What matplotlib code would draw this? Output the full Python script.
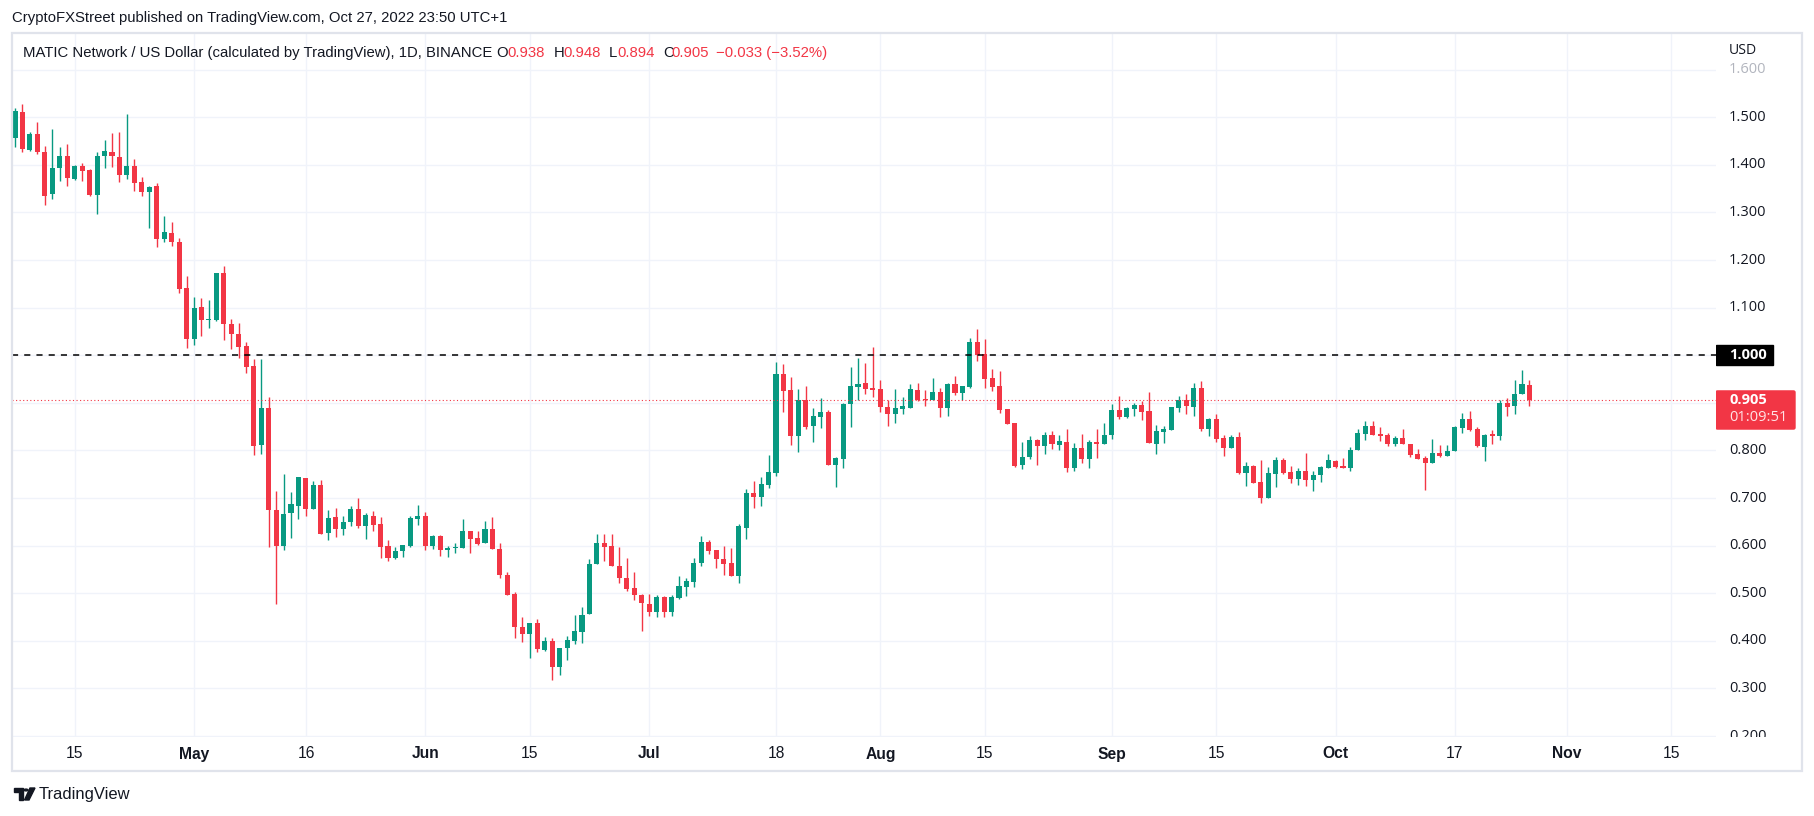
import numpy as np
import pandas as pd
import matplotlib
matplotlib.use('Agg')
import matplotlib.pyplot as plt
import matplotlib.dates as mdates
import matplotlib.transforms as mtrans
from matplotlib import font_manager
from matplotlib.patches import Rectangle, FancyBboxPatch, Polygon, Circle

# ---- data: MATIC/USD daily candles, 2022-04-07 .. 2022-10-27 ----
dates = pd.date_range('2022-04-07', '2022-10-27', freq='D')

open_ = [
    # Apr 7-30
    1.457, 1.511, 1.431, 1.465, 1.427, 1.338, 1.394, 1.419, 1.371, 1.398, 1.390, 1.336,
    1.418, 1.427, 1.417, 1.378, 1.398, 1.364, 1.344, 1.356, 1.245, 1.257, 1.238, 1.142,
    # May
    1.034, 1.102, 1.075, 1.075, 1.173, 1.066, 1.045, 1.020, 0.978, 0.812, 0.889, 0.675,
    0.600, 0.668, 0.684, 0.742, 0.678, 0.728, 0.627, 0.660, 0.634, 0.649, 0.677, 0.642,
    0.662, 0.646, 0.599, 0.575, 0.588, 0.600, 0.656,
    # Jun
    0.662, 0.600, 0.621, 0.590, 0.595, 0.596, 0.631, 0.617, 0.605, 0.634, 0.594, 0.539,
    0.499, 0.429, 0.414, 0.438, 0.380, 0.399, 0.345, 0.384, 0.399, 0.418, 0.456, 0.561,
    0.606, 0.600, 0.558, 0.533, 0.510, 0.497,
    # Jul
    0.478, 0.460, 0.493, 0.461, 0.491, 0.514, 0.524, 0.564, 0.608, 0.591, 0.572, 0.564,
    0.537, 0.638, 0.710, 0.703, 0.728, 0.753, 0.960, 0.927, 0.831, 0.906, 0.852, 0.871,
    0.880, 0.770, 0.783, 0.898, 0.934, 0.941, 0.931,
    # Aug
    0.929, 0.891, 0.877, 0.887, 0.890, 0.927, 0.908, 0.906, 0.922, 0.890, 0.939, 0.921,
    0.933, 1.027, 1.002, 0.952, 0.935, 0.887, 0.857, 0.770, 0.787, 0.822, 0.810, 0.832,
    0.812, 0.818, 0.764, 0.806, 0.783, 0.818, 0.814,
    # Sep
    0.832, 0.885, 0.870, 0.887, 0.895, 0.883, 0.813, 0.838, 0.843, 0.889, 0.906, 0.891,
    0.931, 0.845, 0.866, 0.826, 0.805, 0.828, 0.752, 0.767, 0.733, 0.701, 0.750, 0.780,
    0.755, 0.740, 0.757, 0.738, 0.748, 0.764,
    # Oct 1-27
    0.778, 0.768, 0.763, 0.801, 0.835, 0.852, 0.835, 0.833, 0.814, 0.826, 0.814, 0.793,
    0.784, 0.774, 0.795, 0.789, 0.799, 0.847, 0.866, 0.845, 0.807, 0.835, 0.831, 0.900,
    0.893, 0.919, 0.938,
]
high = [
    1.519, 1.528, 1.469, 1.490, 1.440, 1.475, 1.438, 1.444, 1.400, 1.404, 1.392, 1.427,
    1.452, 1.467, 1.469, 1.507, 1.413, 1.375, 1.356, 1.362, 1.293, 1.280, 1.247, 1.167,
    1.123, 1.121, 1.117, 1.173, 1.188, 1.077, 1.068, 1.028, 0.992, 0.992, 0.912, 0.715,
    0.751, 0.713, 0.744, 0.742, 0.736, 0.738, 0.675, 0.679, 0.663, 0.683, 0.700, 0.669,
    0.673, 0.660, 0.612, 0.597, 0.602, 0.662, 0.686,
    0.671, 0.623, 0.623, 0.599, 0.606, 0.657, 0.631, 0.631, 0.652, 0.661, 0.606, 0.545,
    0.503, 0.451, 0.438, 0.445, 0.409, 0.407, 0.384, 0.411, 0.455, 0.472, 0.573, 0.625,
    0.625, 0.625, 0.598, 0.575, 0.545, 0.499,
    0.499, 0.497, 0.494, 0.496, 0.536, 0.532, 0.574, 0.620, 0.612, 0.591, 0.599, 0.595,
    0.645, 0.719, 0.736, 0.744, 0.790, 0.985, 0.981, 0.954, 0.929, 0.935, 0.889, 0.910,
    0.885, 0.786, 0.899, 0.975, 0.994, 0.983, 1.017,
    0.947, 0.906, 0.929, 0.912, 0.939, 0.941, 0.927, 0.952, 0.931, 0.941, 0.956, 0.935,
    1.036, 1.055, 1.034, 0.971, 0.966, 0.887, 0.857, 0.817, 0.830, 0.824, 0.838, 0.841,
    0.832, 0.845, 0.815, 0.834, 0.822, 0.845, 0.857,
    0.897, 0.914, 0.891, 0.899, 0.903, 0.922, 0.853, 0.851, 0.891, 0.914, 0.918, 0.941,
    0.945, 0.868, 0.876, 0.832, 0.832, 0.838, 0.775, 0.769, 0.780, 0.765, 0.786, 0.784,
    0.767, 0.763, 0.794, 0.757, 0.767, 0.793,
    0.780, 0.784, 0.807, 0.845, 0.862, 0.862, 0.849, 0.837, 0.831, 0.845, 0.814, 0.803,
    0.789, 0.824, 0.812, 0.812, 0.852, 0.879, 0.883, 0.849, 0.835, 0.843, 0.906, 0.910,
    0.948, 0.969, 0.948,
]
low = [
    1.438, 1.426, 1.430, 1.422, 1.315, 1.329, 1.367, 1.355, 1.369, 1.367, 1.335, 1.296,
    1.394, 1.396, 1.363, 1.371, 1.346, 1.334, 1.268, 1.227, 1.237, 1.229, 1.130, 1.015,
    1.021, 1.040, 1.057, 1.071, 1.031, 1.013, 0.995, 0.962, 0.791, 0.793, 0.598, 0.478,
    0.590, 0.617, 0.657, 0.663, 0.676, 0.625, 0.611, 0.619, 0.623, 0.642, 0.638, 0.613,
    0.630, 0.575, 0.567, 0.571, 0.577, 0.598, 0.644,
    0.590, 0.592, 0.579, 0.577, 0.584, 0.596, 0.584, 0.602, 0.605, 0.592, 0.531, 0.496,
    0.406, 0.397, 0.364, 0.376, 0.378, 0.317, 0.328, 0.360, 0.393, 0.395, 0.456, 0.561,
    0.567, 0.557, 0.521, 0.504, 0.485, 0.420,
    0.452, 0.450, 0.450, 0.453, 0.487, 0.495, 0.514, 0.558, 0.583, 0.554, 0.539, 0.537,
    0.522, 0.614, 0.680, 0.684, 0.722, 0.747, 0.881, 0.812, 0.797, 0.845, 0.818, 0.847,
    0.770, 0.724, 0.764, 0.850, 0.906, 0.919, 0.913,
    0.881, 0.852, 0.858, 0.877, 0.890, 0.904, 0.894, 0.906, 0.871, 0.873, 0.917, 0.906,
    0.931, 0.987, 0.931, 0.925, 0.878, 0.856, 0.766, 0.762, 0.781, 0.770, 0.793, 0.803,
    0.801, 0.755, 0.757, 0.774, 0.764, 0.785, 0.814,
    0.824, 0.866, 0.868, 0.872, 0.864, 0.815, 0.792, 0.815, 0.843, 0.880, 0.876, 0.872,
    0.841, 0.830, 0.817, 0.788, 0.805, 0.750, 0.725, 0.731, 0.690, 0.701, 0.723, 0.750,
    0.731, 0.727, 0.725, 0.715, 0.734, 0.764,
    0.763, 0.763, 0.757, 0.801, 0.822, 0.833, 0.820, 0.810, 0.810, 0.814, 0.786, 0.782,
    0.717, 0.774, 0.786, 0.789, 0.799, 0.837, 0.841, 0.807, 0.778, 0.814, 0.822, 0.873,
    0.877, 0.919, 0.894,
]
close = [
    1.513, 1.434, 1.465, 1.426, 1.334, 1.394, 1.419, 1.373, 1.398, 1.388, 1.337, 1.419,
    1.429, 1.418, 1.378, 1.398, 1.361, 1.342, 1.354, 1.245, 1.259, 1.237, 1.140, 1.034,
    1.100, 1.075, 1.077, 1.173, 1.065, 1.044, 1.018, 0.976, 0.810, 0.889, 0.674, 0.600,
    0.667, 0.687, 0.744, 0.676, 0.728, 0.625, 0.658, 0.634, 0.650, 0.677, 0.642, 0.665,
    0.644, 0.598, 0.575, 0.589, 0.602, 0.658, 0.662,
    0.600, 0.621, 0.590, 0.596, 0.598, 0.631, 0.615, 0.604, 0.634, 0.592, 0.538, 0.496,
    0.429, 0.414, 0.438, 0.382, 0.399, 0.345, 0.384, 0.401, 0.420, 0.455, 0.562, 0.606,
    0.598, 0.557, 0.532, 0.508, 0.496, 0.479,
    0.460, 0.493, 0.461, 0.492, 0.515, 0.526, 0.564, 0.608, 0.589, 0.571, 0.562, 0.537,
    0.641, 0.710, 0.703, 0.729, 0.754, 0.960, 0.925, 0.831, 0.906, 0.850, 0.872, 0.880,
    0.770, 0.784, 0.897, 0.935, 0.939, 0.929, 0.927,
    0.892, 0.877, 0.889, 0.893, 0.929, 0.906, 0.906, 0.922, 0.890, 0.939, 0.921, 0.935,
    1.027, 1.001, 0.950, 0.934, 0.885, 0.856, 0.768, 0.786, 0.822, 0.810, 0.832, 0.814,
    0.820, 0.764, 0.806, 0.782, 0.818, 0.814, 0.832,
    0.885, 0.870, 0.889, 0.895, 0.880, 0.815, 0.841, 0.845, 0.891, 0.906, 0.893, 0.931,
    0.845, 0.866, 0.824, 0.805, 0.828, 0.752, 0.767, 0.731, 0.701, 0.752, 0.780, 0.752,
    0.740, 0.757, 0.738, 0.748, 0.765, 0.780,
    0.765, 0.763, 0.801, 0.837, 0.852, 0.833, 0.831, 0.814, 0.826, 0.814, 0.791, 0.782,
    0.774, 0.795, 0.789, 0.799, 0.849, 0.866, 0.843, 0.810, 0.833, 0.831, 0.900, 0.892,
    0.919, 0.940, 0.905,
]

price_ticks = [0.2, 0.3, 0.4, 0.5, 0.6, 0.7, 0.8, 0.9, 1.0, 1.1, 1.2, 1.3, 1.4, 1.5, 1.6]
time_ticks = ['2022-04-15', '2022-05-01', '2022-05-16', '2022-06-01', '2022-06-15',
              '2022-07-01', '2022-07-18', '2022-08-01', '2022-08-15', '2022-09-01',
              '2022-09-15', '2022-10-01', '2022-10-17', '2022-11-01', '2022-11-15']
time_labels = ['15', 'May', '16', 'Jun', '15', 'Jul', '18', 'Aug', '15', 'Sep',
               '15', 'Oct', '17', 'Nov', '15']
level = 1.0
last_price = 0.905
countdown = '01:09:51'

UP = '#089981'
DOWN = '#F23645'
GRID = '#F0F3FA'
TXT = '#131722'

names = {f.name for f in font_manager.fontManager.ttflist}
narrow = 'Liberation Sans' if 'Liberation Sans' in names else 'DejaVu Sans'
plain = 'Open Sans' if 'Open Sans' in names else 'DejaVu Sans'

W, H = 1814, 816
fig = plt.figure(figsize=(W / 100, H / 100), dpi=100)
fig.patch.set_facecolor('white')
renderer = fig.canvas.get_renderer()

def fx(px):
    return px / W

def fy(py):
    return 1 - py / H

def fit(t, width_px):
    # scale font so the text spans the same width as in the screenshot
    w = t.get_window_extent(renderer).width
    t.set_fontsize(t.get_fontsize() * width_px / w)
    return t.get_fontsize()

# main pane (pixel box of the screenshot)
PL, PR, PT, PB = 12, 1716, 33, 737
ax = fig.add_axes([fx(PL), fy(PB), (PR - PL) / W, (PB - PT) / H])
xd = mdates.date2num(dates)
ax.set_xlim(xd[0] - 0.4, xd[-1] + 25.0)
ax.set_ylim(0.198, 1.677)
for s in ax.spines.values():
    s.set_visible(False)
ax.set_xticks([])
ax.set_yticks([])

for p in price_ticks:
    ax.axhline(p, color=GRID, lw=1, zorder=0)
for d in time_ticks:
    ax.axvline(mdates.date2num(pd.Timestamp(d)), color=GRID, lw=1, zorder=0)

o = np.array(open_); h = np.array(high); l = np.array(low); c = np.array(close)
cols = np.where(c >= o, UP, DOWN)
ax.vlines(xd, l, h, colors=cols, lw=1.0, zorder=2)
body = np.maximum(np.abs(c - o), 0.0022)
ax.bar(xd, body, bottom=np.minimum(o, c), width=0.68, color=cols, lw=0, zorder=3)

ax.axhline(level, color='black', lw=1.1, dashes=(4, 4), zorder=4)
ax.axhline(last_price, color=DOWN, lw=0.8, linestyle=(0, (1, 2.2)), zorder=4)

# price scale
pax = fig.add_axes([fx(PR), fy(PB), (1802 - PR) / W, (PB - PT) / H])
pax.set_xlim(0, 86)
pax.set_ylim(ax.get_ylim())
pax.axis('off')
probe = fig.text(0, 0, '1.500', fontsize=9, family=plain)
PFS = fit(probe, 37)
probe.remove()
for p in price_ticks:
    col = '#B2B5BE' if p > 1.55 else TXT
    pax.text(13, p, '%.3f' % p, fontsize=PFS, family=plain, color=col,
             va='center', ha='left', clip_on=True)

pax.add_patch(Rectangle((0, level - 0.021), 57, 0.042, color='black', zorder=5))
pax.text(13, level, '%.3f' % level, fontsize=PFS, family=plain, color='white',
         fontweight='bold', va='center', ha='left', zorder=6)
pax.add_patch(FancyBboxPatch((0, last_price - 0.060), 79, 0.080,
                             boxstyle='round,pad=0,rounding_size=1.5',
                             color=DOWN, zorder=5, mutation_aspect=0.002))
pax.text(13, last_price, '%.3f' % last_price, fontsize=PFS, family=plain,
         color='white', fontweight='bold', va='center', ha='left', zorder=6)
pax.text(13, last_price - 0.036, countdown, fontsize=PFS, family=plain,
         color='#FFE3E6', va='center', ha='left', zorder=6)
fig.text(fx(1729), fy(51), 'USD', fontsize=PFS - 0.4, family=plain, color=TXT, va='center')

# outer frame
fig.add_artist(Rectangle((fx(12), fy(771)), (1802 - 12) / W, (771 - 33) / H,
                         transform=fig.transFigure, fill=False,
                         edgecolor='#E0E3EB', lw=1.6))

# header texts
top = fig.text(fx(12), fy(18), 'CryptoFXStreet published on TradingView.com, Oct 27, 2022 23:50 UTC+1',
               fontsize=11, family=narrow, color=TXT, va='center')
fit(top, 495)
main = fig.text(fx(23), fy(53), 'MATIC Network / US Dollar (calculated by TradingView), 1D, BINANCE',
                fontsize=10, family=narrow, color=TXT, va='center')
HFS = fit(main, 468)
hdr = [(496, 'O', TXT), (507, '0.938', DOWN), (554, 'H', TXT), (563, '0.948', DOWN),
       (609, 'L', TXT), (617, '0.894', DOWN), (663, 'C', TXT), (671, '0.905', DOWN),
       (716, '\u22120.033 (\u22123.52%)', DOWN)]
for x, s, col in hdr:
    fig.text(fx(x), fy(53), s, fontsize=HFS, family=narrow, color=col, va='center')

# time scale
tr = mtrans.blended_transform_factory(ax.transData, fig.transFigure)
for d, lab in zip(time_ticks, time_labels):
    bold = not lab.isdigit()
    fig.text(mdates.date2num(pd.Timestamp(d)), fy(754), lab, transform=tr,
             ha='center', va='center', fontsize=HFS + 0.6, family=narrow, color=TXT,
             fontweight='bold' if bold else 'normal')

# TradingView logo
fig.add_artist(Polygon([(fx(14), fy(788)), (fx(23), fy(788)), (fx(23), fy(800)),
                        (fx(18.5), fy(800)), (fx(18.5), fy(792)), (fx(14), fy(792))],
                       closed=True, color=TXT, transform=fig.transFigure))
fig.add_artist(Circle((fx(26), fy(790)), 2.0 / W, color=TXT, transform=fig.transFigure))
fig.add_artist(Polygon([(fx(30), fy(788)), (fx(35), fy(788)), (fx(29), fy(800)),
                        (fx(24.5), fy(800))],
                       closed=True, color=TXT, transform=fig.transFigure))
tv = fig.text(fx(39), fy(794), 'TradingView', fontsize=11, family=narrow, color=TXT, va='center')
fit(tv, 91)

fig.savefig('out.png', dpi=100, facecolor='white')
